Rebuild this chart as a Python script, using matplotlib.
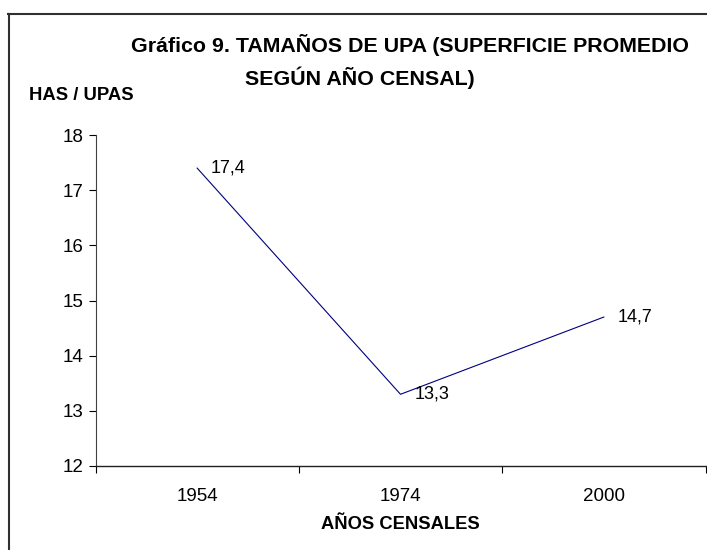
import matplotlib
matplotlib.use("Agg")
import matplotlib.pyplot as plt
from matplotlib.lines import Line2D

# datos del grafico
anios = ["1954", "1974", "2000"]
superficie = [17.4, 13.3, 14.7]
etiquetas = ["17,4", "13,3", "14,7"]

plt.rcParams["font.family"] = ["Liberation Sans", "DejaVu Sans"]

fig = plt.figure(figsize=(7.07, 5.5), dpi=100)
ax = fig.add_axes([95.5 / 707, 1 - 466 / 550, 610 / 707, 331 / 550])

x = [i + 0.5 for i in range(len(anios))]
ax.plot(x, superficie, color="#000080", linewidth=0.8)

for xi, yi, t in zip(x, superficie, etiquetas):
    ax.annotate(t, (xi, yi), xytext=(10, 0), textcoords="offset points",
                ha="left", va="center", fontsize=13)

ax.set_xlim(0, 3)
ax.set_ylim(12, 18)
ax.set_yticks(range(12, 19))
ax.set_xticks([0, 1, 2, 3])
ax.set_xticklabels([])
ax.set_xticks(x, minor=True)
ax.set_xticklabels(anios, minor=True)
ax.tick_params(axis="x", which="minor", length=0, pad=16, labelsize=13.5)
ax.tick_params(axis="x", which="major", length=5, direction="out", width=0.8)
ax.tick_params(axis="y", length=5, direction="out", width=0.8, pad=4, labelsize=13.5)

for s in ["top", "right"]:
    ax.spines[s].set_visible(False)
ax.spines["left"].set_color("#404040")
ax.spines["bottom"].set_color("#202020")
ax.spines["left"].set_linewidth(0.8)
ax.spines["bottom"].set_linewidth(1.0)

ax.set_xlabel("AÑOS CENSALES", fontsize=13.2, fontweight="bold", labelpad=8)

# titulo y etiqueta del eje y
fig.text(410 / 707, 1 - 45 / 550, "Gráfico 9. TAMAÑOS DE UPA (SUPERFICIE PROMEDIO",
         ha="center", va="center", fontsize=15.4, fontweight="bold")
fig.text(360 / 707, 1 - 78 / 550, "SEGÚN AÑO CENSAL)",
         ha="center", va="center", fontsize=15.4, fontweight="bold")
fig.text(29 / 707, 1 - 96 / 550, "HAS / UPAS",
         ha="left", va="center", fontsize=13.3, fontweight="bold")

# marco
fig.add_artist(Line2D([8 / 707, 1], [1 - 14 / 550, 1 - 14 / 550],
                      transform=fig.transFigure, color="#303030", linewidth=1.5))
fig.add_artist(Line2D([9 / 707, 9 / 707], [0, 1 - 14 / 550],
                      transform=fig.transFigure, color="#303030", linewidth=1.5))

fig.savefig("out.png", dpi=100)
